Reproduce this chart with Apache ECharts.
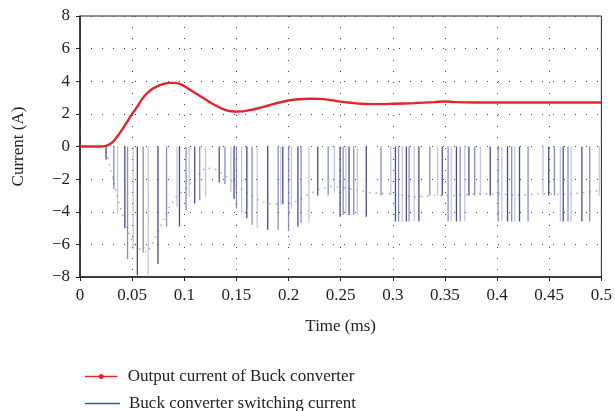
<!DOCTYPE html>
<html><head><meta charset="utf-8">
<script src="https://cdn.jsdelivr.net/npm/echarts@6/dist/echarts.min.js"></script>
<style>html,body{margin:0;padding:0;background:#fff}#c{width:615px;height:411px}</style>
</head><body><div id="c"></div>
<script>
// Output current (red) : time in ms, current in A
var outTime = [0,0.01,0.02,0.024,0.03,0.035,0.04,0.045,0.05,0.055,0.06,0.065,0.07,0.075,0.08,0.085,0.09,0.095,0.1,0.105,0.11,0.115,0.12,0.125,0.13,0.135,0.14,0.145,0.15,0.155,0.16,0.17,0.18,0.19,0.2,0.21,0.22,0.23,0.24,0.25,0.26,0.27,0.28,0.29,0.3,0.32,0.34,0.35,0.36,0.38,0.4,0.45,0.5];
var outCurrent = [0,0,0,0.02,0.2,0.55,1.0,1.5,2.0,2.45,2.95,3.3,3.55,3.72,3.83,3.9,3.9,3.85,3.7,3.5,3.3,3.1,2.9,2.7,2.52,2.35,2.23,2.16,2.14,2.15,2.2,2.33,2.5,2.68,2.82,2.9,2.93,2.92,2.85,2.75,2.68,2.62,2.6,2.6,2.62,2.66,2.72,2.76,2.72,2.7,2.7,2.7,2.7];

// Switching current spikes (blue): time in ms, spike depth in A
var spikeTime = [0.025,0.0325,0.036,0.043,0.0456,0.051,0.055,0.0606,0.0654,0.0748,0.083,0.093,0.0954,0.1017,0.1047,0.110,0.1148,0.1204,0.1335,0.139,0.1447,0.1477,0.150,0.155,0.160,0.165,0.170,0.180,0.190,0.1926,0.1945,0.200,0.2027,0.209,0.212,0.2195,0.228,0.238,0.244,0.2494,0.2524,0.255,0.258,0.2625,0.266,0.2745,0.2887,0.298,0.3025,0.3055,0.309,0.313,0.3156,0.3205,0.325,0.3355,0.343,0.3474,0.353,0.356,0.361,0.3646,0.369,0.373,0.3785,0.384,0.3934,0.401,0.4046,0.410,0.414,0.417,0.4215,0.4297,0.444,0.4495,0.455,0.4607,0.4634,0.468,0.471,0.4813,0.4888,0.498];
var spikeDepth = [-0.8,-2.6,-4.1,-5.0,-6.9,-6.3,-7.9,-6.5,-7.9,-7.2,-4.9,-3.7,-4.9,-3.9,-3.1,-3.5,-3.3,-3.1,-2.2,-2.3,-2.8,-3.2,-3.8,-4.1,-4.4,-4.8,-5.0,-5.1,-5.1,-3.6,-3.5,-5.2,-3.8,-4.9,-4.7,-4.7,-3.0,-3.0,-2.8,-4.3,-4.2,-4.2,-4.2,-4.2,-4.2,-4.3,-3.0,-3.0,-4.6,-4.6,-4.6,-4.6,-4.6,-4.6,-4.6,-3.0,-3.0,-3.0,-4.6,-4.6,-4.6,-4.6,-4.6,-3.0,-3.0,-3.0,-3.0,-4.6,-4.6,-4.6,-4.6,-4.6,-4.6,-4.6,-3.0,-3.0,-3.0,-4.6,-4.6,-4.6,-4.6,-4.6,-4.6,-3.0];

// Envelope of switching current (faint dotted trace)
var envTime = [0.025,0.03,0.035,0.04,0.045,0.05,0.055,0.06,0.065,0.075,0.085,0.093,0.1,0.11,0.12,0.13,0.14,0.15,0.16,0.17,0.18,0.19,0.2,0.21,0.22,0.23,0.24,0.25,0.26,0.28,0.3,0.32,0.34,0.36,0.38,0.4,0.42,0.44,0.46,0.48,0.5];
var envValue = [-0.3,-1.5,-2.9,-4.0,-5.0,-5.8,-6.2,-6.4,-6.5,-5.2,-3.8,-3.0,-2.7,-2.0,-1.3,-1.4,-1.8,-2.4,-2.85,-3.25,-3.5,-3.55,-3.5,-3.3,-2.9,-2.6,-2.45,-2.5,-2.6,-2.85,-2.9,-3.1,-3.0,-3.0,-2.9,-2.9,-3.0,-2.9,-2.95,-2.85,-2.7];

var xTicks = [0,0.05,0.1,0.15,0.2,0.25,0.3,0.35,0.4,0.45,0.5];
var yTicks = [-8,-6,-4,-2,0,2,4,6,8];

var SERIF = '"Liberation Serif","DejaVu Serif",serif';
var NAME_OUT = 'Output current of Buck converter';
var NAME_SW = 'Buck converter switching current';
var RED = '#e1252d', BLUE = '#3557b0';

var shades = ['rgba(50,60,120,0.9)','rgba(85,95,155,0.7)','rgba(145,153,198,0.55)'];
var spikeSeries = shades.map(function(col, g){
  var d = [];
  for (var i = 0; i < spikeTime.length; i++) {
    if (i % 3 !== g) continue;
    d.push([spikeTime[i], 0]);
    d.push([spikeTime[i], spikeDepth[i]]);
    d.push([spikeTime[i], '-']);
  }
  return {
    name: NAME_SW, type: 'line', data: d, symbol: 'none', connectNulls: false,
    lineStyle: {color: col, width: 1.3}, itemStyle: {color: BLUE},
    z: 2, animation: false
  };
});

var fmt = function(v){
  var s = String(parseFloat(Math.abs(v).toFixed(2)));
  return v < 0 ? '\u2212' + s : s;
};

var legendText = {fontFamily: SERIF, fontSize: 17, color: '#222', padding: [0,0,0,4]};

var chart = echarts.init(document.getElementById('c'), null, {renderer: 'canvas'});
chart.setOption({
  animation: false,
  backgroundColor: '#fff',
  grid: {left: 80, right: 11, top: 16, bottom: 134, show: true, borderColor: '#222', borderWidth: 1, backgroundColor: 'transparent'},
  xAxis: {
    type: 'value', min: xTicks[0], max: xTicks[xTicks.length-1], interval: 0.05,
    name: 'Time (ms)', nameLocation: 'middle', nameGap: 41,
    nameTextStyle: {fontFamily: SERIF, fontSize: 17, color: '#222'},
    axisLine: {show: true, onZero: false, lineStyle: {color: '#222', width: 1.5}},
    axisTick: {show: true, inside: false, length: 4, lineStyle: {color: '#222'}},
    axisLabel: {fontFamily: SERIF, fontSize: 17, color: '#222', margin: 10, formatter: fmt},
    splitLine: {show: true, lineStyle: {type: [1, 10], color: '#444', width: 1}}
  },
  yAxis: {
    type: 'value', min: yTicks[0], max: yTicks[yTicks.length-1], interval: 2,
    name: 'Current (A)', nameLocation: 'middle', nameGap: 53, nameRotate: 90,
    nameTextStyle: {fontFamily: SERIF, fontSize: 17, color: '#222'},
    axisLine: {show: true, onZero: false, lineStyle: {color: '#222', width: 1.5}},
    axisTick: {show: true, inside: false, length: 4, lineStyle: {color: '#222'}},
    axisLabel: {fontFamily: SERIF, fontSize: 17, color: '#222', margin: 10, formatter: fmt},
    splitLine: {show: true, lineStyle: {type: [1, 10], color: '#444', width: 1}}
  },
  legend: [
    {
      left: 80, top: 363, itemWidth: 35, itemHeight: 5, textStyle: legendText,
      data: [{name: NAME_OUT, icon: 'path://M0,1.8L35,1.8L35,3.2L0,3.2Z M14.8,2.5A2.7,2.7 0 1 1 20.2,2.5A2.7,2.7 0 1 1 14.8,2.5Z',
              itemStyle: {color: RED, borderWidth: 0}, lineStyle: {color: RED, width: 0}}]
    },
    {
      left: 80, top: 390, itemWidth: 35, itemHeight: 1.6, textStyle: legendText,
      data: [{name: NAME_SW, icon: 'path://M0,0L35,0L35,1.6L0,1.6Z',
              itemStyle: {color: BLUE, borderWidth: 0, opacity: 1}, lineStyle: {color: BLUE, width: 0, opacity: 1}}]
    }
  ],
  series: spikeSeries.concat([
    {
      name: 'envelope', type: 'line', symbol: 'none', z: 1,
      data: envTime.map(function(t, i){ return [t, envValue[i]]; }),
      lineStyle: {color: 'rgba(80,90,150,0.5)', width: 1.5, type: [1.5, 5]}
    },
    {
      name: NAME_OUT, type: 'line', smooth: 0.4, symbol: 'circle', symbolSize: 5, showSymbol: false, z: 5,
      data: outTime.map(function(t, i){ return [t, outCurrent[i]]; }),
      lineStyle: {color: RED, width: 2.4}, itemStyle: {color: RED}
    }
  ])
});
</script></body></html>
